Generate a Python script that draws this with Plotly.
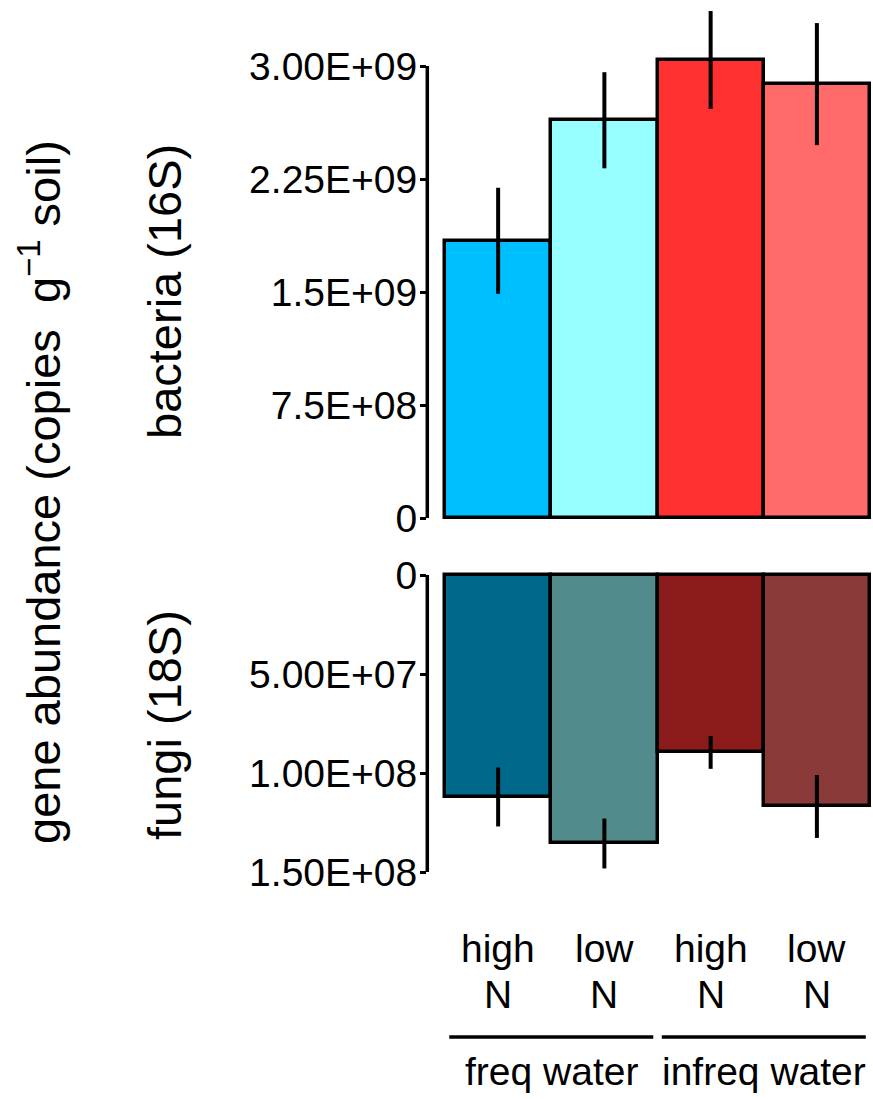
import plotly.graph_objects as go

categories = [1, 2, 3, 4]
cat_top = ["high", "low", "high", "low"]
cat_bottom = ["N", "N", "N", "N"]
group_labels = ["freq water", "infreq water"]
group_centers = [1.5, 3.5]

bact_mean = [1.84e9, 2.64e9, 3.04e9, 2.88e9]
bact_se = [0.352e9, 0.319e9, 0.325e9, 0.405e9]
fungi_mean = [1.121e8, 1.356e8, 0.896e8, 1.169e8]
fungi_se = [1.49e7, 1.26e7, 0.83e7, 1.59e7]

bact_colors = ["#00BFFF", "#97FFFF", "#FF3030", "#FF6A6A"]
fungi_colors = ["#00688B", "#528B8B", "#8B1A1A", "#8B3A3A"]

bact_ticks = [0, 7.5e8, 1.5e9, 2.25e9, 3.0e9]
bact_ticktext = ["0", "7.5E+08", "1.5E+09", "2.25E+09", "3.00E+09"]
fungi_ticks = [0, 5e7, 1e8, 1.5e8]
fungi_ticktext = ["0", "5.00E+07", "1.00E+08", "1.50E+08"]

W, H = 873, 1099
FONT = "Liberation Sans, Arial, sans-serif"


def px(v):
    return v / W


def py(v):
    return 1 - v / H


fig = go.Figure()
fig.add_trace(go.Bar(
    x=categories, y=bact_mean, width=1.0,
    marker=dict(color=bact_colors, line=dict(color="black", width=3.5)),
    error_y=dict(type="data", array=bact_se, width=0, thickness=4, color="black"),
    xaxis="x", yaxis="y", showlegend=False,
))
fig.add_trace(go.Bar(
    x=categories, y=fungi_mean, width=1.0,
    marker=dict(color=fungi_colors, line=dict(color="black", width=3.5)),
    error_y=dict(type="data", array=fungi_se, width=0, thickness=4, color="black"),
    xaxis="x2", yaxis="y2", showlegend=False,
))

xdom = [px(427), 1.0]
xr = [0.3306, 4.528]

common_y = dict(ticks="outside", ticklen=6, tickwidth=3, tickcolor="black",
                ticklabelstandoff=-5, showgrid=False, zeroline=False,
                showline=False, automargin=False,
                tickfont=dict(size=39, family=FONT, color="black"))
common_x = dict(domain=xdom, range=xr, showticklabels=False, showgrid=False,
                zeroline=False, showline=False, ticks="", automargin=False)

fig.update_layout(
    template="none",
    width=W, height=H,
    margin=dict(l=0, r=0, t=0, b=0, pad=0, autoexpand=False),
    paper_bgcolor="white", plot_bgcolor="white",
    font=dict(family=FONT, color="black", size=38),
    bargap=0,
    xaxis=dict(anchor="y", **common_x),
    xaxis2=dict(anchor="y2", **common_x),
    yaxis=dict(domain=[py(522), py(5)], range=[-2.65e7, 3.405e9],
               tickvals=bact_ticks, ticktext=bact_ticktext, anchor="x", **common_y),
    yaxis2=dict(domain=[py(882), py(571)], range=[1.5505e8, -2.02e6],
                tickvals=fungi_ticks, ticktext=fungi_ticktext, anchor="x2", **common_y),
)

# bracket-style axis lines spanning only the tick range
fig.add_shape(type="line", xref="paper", yref="y", x0=px(427.3), x1=px(427.3),
              y0=bact_ticks[0], y1=bact_ticks[-1], line=dict(color="black", width=3.5))
fig.add_shape(type="line", xref="paper", yref="y2", x0=px(427.3), x1=px(427.3),
              y0=fungi_ticks[0], y1=fungi_ticks[-1], line=dict(color="black", width=3.5))

annotations = []
annotations.append(dict(text="bacteria (16S)", xref="paper", yref="paper",
                        x=px(164), y=py(292), textangle=-90, showarrow=False,
                        xanchor="center", yanchor="middle", font=dict(size=47)))
annotations.append(dict(text="fungi (18S)", xref="paper", yref="paper",
                        x=px(164), y=py(725), textangle=-90, showarrow=False,
                        xanchor="center", yanchor="middle", font=dict(size=47)))
annotations.append(dict(text="gene abundance (copies  g<sup>\u22121</sup> soil)",
                        xref="paper", yref="paper",
                        x=px(40), y=py(492), textangle=-90, showarrow=False,
                        xanchor="center", yanchor="middle", font=dict(size=47)))

for c, t1, t2 in zip(categories, cat_top, cat_bottom):
    annotations.append(dict(text=t1, xref="x2", yref="paper", x=c, y=py(948),
                            showarrow=False, xanchor="center", yanchor="middle",
                            font=dict(size=39)))
    annotations.append(dict(text=t2, xref="x2", yref="paper", x=c, y=py(994),
                            showarrow=False, xanchor="center", yanchor="middle",
                            font=dict(size=39)))

for gc, lab in zip(group_centers, group_labels):
    annotations.append(dict(text=lab, xref="x2", yref="paper", x=gc, y=py(1071),
                            showarrow=False, xanchor="center", yanchor="middle",
                            font=dict(size=39)))
    fig.add_shape(type="line", xref="x2", yref="paper",
                  x0=gc - 0.96, x1=gc + 0.96, y0=py(1037), y1=py(1037),
                  line=dict(color="black", width=3.5))

fig.update_layout(annotations=annotations)
fig.write_html("out.html", config={"displayModeBar": False},
               post_script="document.body.style.margin='0px';document.body.style.overflow='hidden';")
